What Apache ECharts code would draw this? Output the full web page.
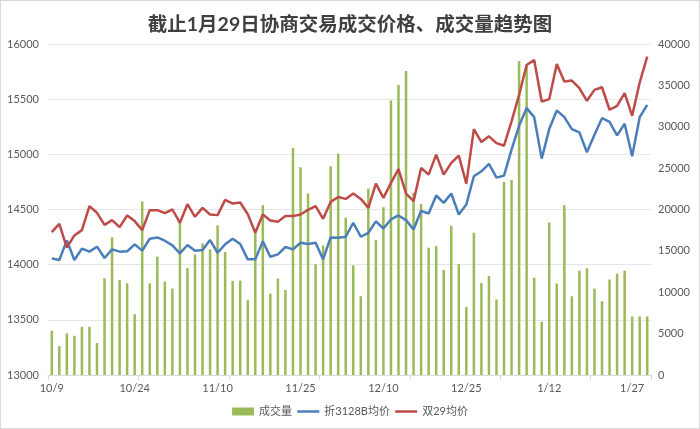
<!DOCTYPE html>
<html>
<head>
<meta charset="utf-8">
<script src="https://cdn.jsdelivr.net/npm/echarts@6/dist/echarts.min.js"></script>
<style>
html,body{margin:0;padding:0;background:#fff;}
#chart{width:700px;height:429px;box-sizing:border-box;border:1px solid #d9d9d9;}
</style>
</head>
<body>
<div id="chart"></div>
<script>
const dates = [
  '10/9','10/10','10/11','10/12','10/13','10/16','10/17','10/18','10/19','10/20','10/23',
  '10/24','10/25','10/26','10/27','10/30','10/31','11/1','11/2','11/6','11/7','11/9',
  '11/10','11/13','11/14','11/15','11/16','11/17','11/20','11/21','11/22','11/23','11/24',
  '11/25','11/27','11/28','11/29','11/30','12/1','12/4','12/5','12/6','12/7','12/8',
  '12/10','12/11','12/12','12/13','12/14','12/15','12/18','12/19','12/20','12/21','12/22',
  '12/25','12/26','12/27','12/28','12/29','1/2','1/3','1/4','1/5','1/8','1/10',
  '1/12','1/15','1/16','1/17','1/18','1/19','1/22','1/23','1/24','1/25','1/26',
  '1/27','1/28','1/29'
];
const volume = [
  5340,3490,5020,4740,5820,5820,3860,11690,16630,11490,11080,7350,20960,11080,14300,11290,10440,18470,12930,14580,
  15900,15180,18070,14860,11370,11410,9040,17190,20520,9840,11650,10280,27430,25100,21930,13400,15660,25220,26750,19000,
  13250,9520,22530,16310,20280,33170,35060,36750,22010,20680,15380,15580,12690,18030,13410,8230,17190,11120,11970,9120,
  23330,23570,37950,37500,11770,6430,18430,11040,20520,9520,12610,12890,10440,8920,11530,12250,12610,7070,7070,7070
];
const price3128B = [
  14057,14042,14220,14042,14145,14118,14163,14060,14139,14118,14121,14184,14127,14235,14247,14217,14175,14103,14178,14127,
  14133,14223,14108,14184,14235,14187,14048,14048,14211,14072,14093,14160,14139,14199,14187,14199,14048,14247,14244,14253,
  14380,14253,14289,14392,14328,14410,14446,14404,14319,14488,14464,14627,14560,14645,14455,14545,14801,14846,14913,14789,
  14807,15042,15259,15419,15337,14961,15229,15398,15337,15229,15199,15018,15178,15328,15295,15172,15277,14982,15337,15449
];
const price29 = [
  14295,14370,14154,14265,14313,14530,14470,14361,14404,14340,14446,14395,14313,14494,14494,14467,14500,14380,14548,14434,
  14515,14455,14449,14587,14554,14563,14458,14289,14455,14401,14389,14440,14440,14455,14497,14530,14416,14569,14614,14596,
  14645,14596,14515,14735,14605,14741,14867,14645,14575,14877,14816,14997,14816,14922,14988,14735,15229,15111,15163,15102,
  15078,15298,15539,15810,15855,15479,15500,15819,15660,15669,15599,15485,15584,15608,15404,15440,15554,15349,15651,15886
];
const seriesNames = ['成交量','折3128B均价','双29均价'];
const titleText = '截止1月29日协商交易成交价格、成交量趋势图';

const font = "Lato, 'Noto Sans CJK SC', sans-serif";
const chart = echarts.init(document.getElementById('chart'));
chart.setOption({
  animation: false,
  backgroundColor: '#ffffff',
  textStyle: { fontFamily: font },
  title: {
    text: titleText,
    left: 'center',
    top: 9,
    textStyle: { fontSize: 19.5, fontWeight: 'bold', color: '#404040', fontFamily: font }
  },
  legend: {
    data: [
      { name: seriesNames[0], icon: 'rect' },
      { name: seriesNames[1], itemStyle: { opacity: 0 }, lineStyle: { color: '#4a7ebb', width: 2.5, opacity: 1 } },
      { name: seriesNames[2], itemStyle: { opacity: 0 }, lineStyle: { color: '#be4b48', width: 2.5, opacity: 1 } }
    ],
    bottom: 6,
    left: 'center',
    itemWidth: 22,
    itemHeight: 8,
    itemGap: 4,
    textStyle: { fontSize: 11, color: '#595959', fontFamily: font }
  },
  grid: { left: 47, right: 48, top: 43, bottom: 53, containLabel: false },
  xAxis: {
    type: 'category',
    data: dates,
    boundaryGap: true,
    axisLine: { lineStyle: { color: '#d9d9d9' } },
    axisTick: { show: true, interval: 11, length: 5, lineStyle: { color: '#d9d9d9' } },
    axisLabel: { interval: 10, color: '#595959', fontSize: 11, margin: 8, fontFamily: font }
  },
  yAxis: [
    {
      type: 'value', min: 13000, max: 16000, interval: 500,
      axisLine: { show: false }, axisTick: { show: false },
      axisLabel: { color: '#595959', fontSize: 11, margin: 9, fontFamily: font, formatter: v => String(v) },
      splitLine: { lineStyle: { color: '#e6e6e6', width: 1 } }
    },
    {
      type: 'value', min: 0, max: 40000, interval: 5000,
      axisLine: { show: false }, axisTick: { show: false },
      axisLabel: { color: '#595959', fontSize: 11, margin: 7, fontFamily: font, formatter: v => String(v) },
      splitLine: { show: false }
    }
  ],
  series: [
    {
      name: seriesNames[0], type: 'bar', yAxisIndex: 1, data: volume,
      barWidth: 2.5, itemStyle: { color: '#9bbb59' }, z: 1
    },
    {
      name: seriesNames[1], type: 'line', yAxisIndex: 0, data: price3128B,
      symbol: 'none', lineStyle: { color: '#4a7ebb', width: 2.5 }, itemStyle: { color: '#4a7ebb' }, z: 3
    },
    {
      name: seriesNames[2], type: 'line', yAxisIndex: 0, data: price29,
      symbol: 'none', lineStyle: { color: '#be4b48', width: 2.5 }, itemStyle: { color: '#be4b48' }, z: 4
    }
  ]
});
</script>
</body>
</html>
